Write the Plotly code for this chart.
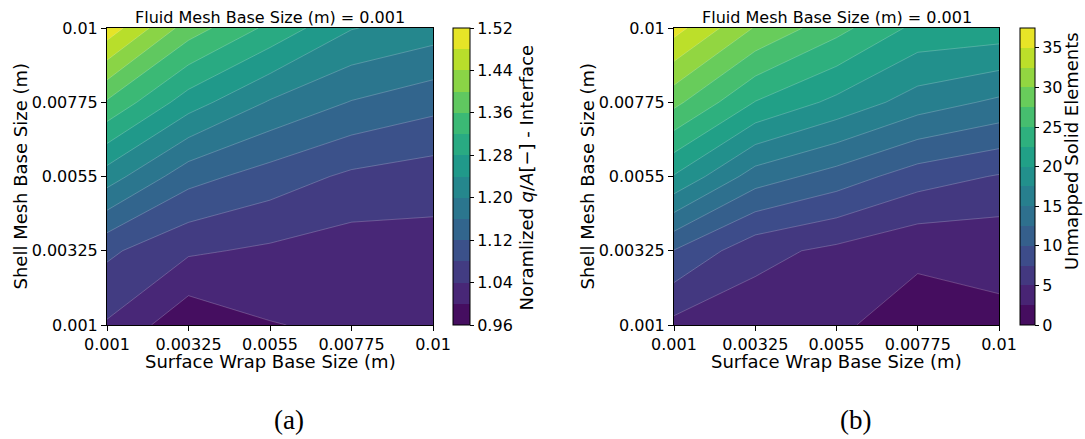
import plotly.graph_objects as go
from plotly.colors import sample_colorscale, sequential

# ---- data ----
grid_vals = [0.001, 0.00325, 0.0055, 0.00775, 0.01]
tick_text = ["0.001", "0.00325", "0.0055", "0.00775", "0.01"]

# rows: shell mesh base size (y) from 0.001 to 0.01 ; cols: surface wrap base size (x)
qa_norm = [
    [1.036, 0.970, 0.998, 1.008, 1.015],
    [1.088, 1.046, 1.033, 1.020, 1.024],
    [1.220, 1.135, 1.102, 1.072, 1.059],
    [1.355, 1.259, 1.196, 1.158, 1.134],
    [1.505, 1.380, 1.310, 1.242, 1.220],
]
unmapped = [
    [4.3, 3.5, 2.8, 1.6, 2.1],
    [9.9, 5.8, 4.4, 2.9, 3.05],
    [19.8, 13.8, 11.4, 8.7, 7.3],
    [28.2, 22.4, 19.35, 16.3, 14.5],
    [36.0, 29.8, 25.85, 21.8, 21.5],
]
levels_a = dict(start=0.96, end=1.52, size=0.04)
levels_b = dict(start=0.0, end=37.5, size=2.5)
cbar_ticks_a = [0.96, 1.04, 1.12, 1.20, 1.28, 1.36, 1.44, 1.52]
cbar_ticks_b = [0, 5, 10, 15, 20, 25, 30, 35]

W, H = 1085, 439
FONT = "DejaVu Sans"


def n_bands(lv):
    return int(round((lv["end"] - lv["start"]) / lv["size"]))


def band_colors(lv):
    nb = n_bands(lv)
    return sample_colorscale(sequential.Viridis, [(k + 0.5) / nb for k in range(nb)])


def contour_colorscale(lv):
    # plotly maps fill band k to s=(k+1)/(nb+1)
    nb = n_bands(lv)
    cols = band_colors(lv)
    cs = [[0.0, cols[0]]]
    for k, c in enumerate(cols):
        cs.append([(k + 0.5) / (nb + 1), c])
        cs.append([(k + 1.5) / (nb + 1), c])
    cs.append([1.0, cols[-1]])
    return cs


def bar_colorscale(lv):
    nb = n_bands(lv)
    cols = band_colors(lv)
    cs = []
    for k, c in enumerate(cols):
        cs.append([k / nb, c])
        cs.append([(k + 1) / nb, c])
    return cs


def px_x(p):
    return p / W


def px_y(p):
    return 1 - p / H


plot_top, plot_bot = 28, 325
ya_dom = [px_y(plot_bot), px_y(plot_top)]
xa_dom = [px_x(107), px_x(433)]
xb_dom = [px_x(674), px_x(999)]
cb_len = (plot_bot - plot_top) / H
cb_y = px_y((plot_top + plot_bot) / 2)

fig = go.Figure()

line_style = dict(width=0.6, color="rgba(255,255,255,0.35)", smoothing=0)

for z, lv, xa, ya in [(qa_norm, levels_a, "x", "y"), (unmapped, levels_b, "x2", "y2")]:
    fig.add_trace(go.Contour(
        x=grid_vals, y=grid_vals, z=z,
        autocontour=False, contours=dict(coloring="fill", showlines=True, **lv),
        colorscale=contour_colorscale(lv), line=line_style, showscale=False,
        xaxis=xa, yaxis=ya,
    ))


def cbar(xpx, thick, ticks, ticktext):
    return dict(x=px_x(xpx), xanchor="left", thickness=thick, thicknessmode="pixels",
                len=cb_len, lenmode="fraction", y=cb_y, yanchor="middle",
                outlinecolor="black", outlinewidth=1, ticks="outside", ticklen=4,
                tickcolor="black", tickvals=ticks, ticktext=ticktext,
                tickfont=dict(family=FONT, size=16, color="black"), xpad=0, ypad=0)


# colorbars (dummy marker traces spanning exactly the contour levels)
for lv, xa, ya, xpx, thick, ticks, tt in [
    (levels_a, "x", "y", 453, 17, cbar_ticks_a, [f"{v:.2f}" for v in cbar_ticks_a]),
    (levels_b, "x2", "y2", 1020, 15, cbar_ticks_b, [str(v) for v in cbar_ticks_b]),
]:
    fig.add_trace(go.Scatter(
        x=[None], y=[None], mode="markers", xaxis=xa, yaxis=ya, hoverinfo="skip",
        marker=dict(color=[lv["start"]], cmin=lv["start"], cmax=lv["end"],
                    colorscale=bar_colorscale(lv), showscale=True,
                    colorbar=cbar(xpx, thick, ticks, tt)),
    ))

axis_common = dict(
    range=[0.001, 0.01], tickvals=grid_vals, ticktext=tick_text,
    ticks="outside", ticklen=5, tickcolor="black", tickwidth=1,
    showline=True, mirror=True, linecolor="black", linewidth=1,
    showgrid=False, zeroline=False, automargin=False,
    tickfont=dict(family=FONT, size=16, color="black"),
)

fig.update_layout(
    width=W, height=H,
    margin=dict(l=0, r=0, t=0, b=0, autoexpand=False),
    paper_bgcolor="white", plot_bgcolor="white",
    xaxis=dict(domain=xa_dom, anchor="y", **axis_common),
    yaxis=dict(domain=ya_dom, anchor="x", **axis_common),
    xaxis2=dict(domain=xb_dom, anchor="y2", **axis_common),
    yaxis2=dict(domain=ya_dom, anchor="x2", **axis_common),
    showlegend=False,
)

ann = []
for (x0, x1), lab, cbx, cbtext, cby in [
    ((107, 433), "(a)", 525.5, "Noramlized <i>q</i>/<i>A</i>[−] - Interface", 178),
    ((674, 999), "(b)", 1071, "Unmapped Solid Elements", 151),
]:
    cx = (x0 + x1) / 2
    ann.append(dict(x=px_x(cx), y=px_y(18), xref="paper", yref="paper", showarrow=False,
                    text="Fluid Mesh Base Size (m) = 0.001", xanchor="center", yanchor="middle",
                    font=dict(family=FONT, size=16, color="black")))
    ann.append(dict(x=px_x(cx), y=px_y(361), xref="paper", yref="paper", showarrow=False,
                    text="Surface Wrap Base Size (m)", xanchor="center", yanchor="middle",
                    font=dict(family=FONT, size=18, color="black")))
    ann.append(dict(x=px_x(x0 - 87), y=px_y(176.5), xref="paper", yref="paper", showarrow=False,
                    text="Shell Mesh Base Size (m)", textangle=-90, xanchor="center", yanchor="middle",
                    font=dict(family=FONT, size=18, color="black")))
    ann.append(dict(x=px_x(cx + 19), y=px_y(420), xref="paper", yref="paper", showarrow=False,
                    text=lab, xanchor="center", yanchor="middle",
                    font=dict(family="Liberation Serif", size=27, color="black")))
    ann.append(dict(x=px_x(cbx), y=px_y(cby), xref="paper", yref="paper", showarrow=False,
                    text=cbtext, textangle=-90, xanchor="center", yanchor="middle",
                    font=dict(family=FONT, size=18, color="black")))

fig.update_layout(annotations=ann)

fig.write_html("out.html")
